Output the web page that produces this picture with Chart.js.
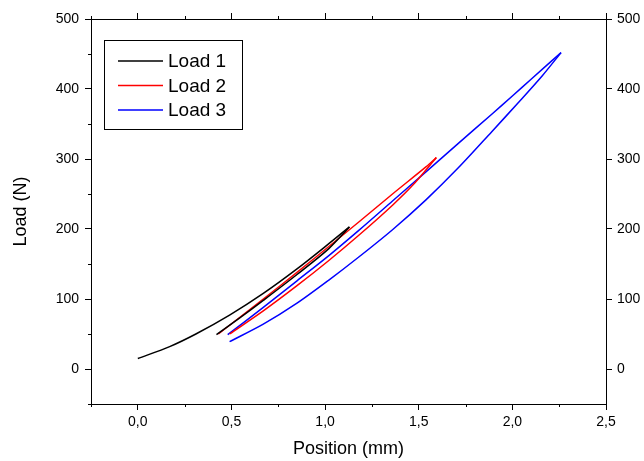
<!DOCTYPE html>
<html>
<head>
<meta charset="utf-8">
<script src="https://cdn.jsdelivr.net/npm/chart.js@4.4.1/dist/chart.umd.min.js"></script>
<style>
  html, body { margin: 0; padding: 0; background: #fff; }
  #wrap { width: 644px; height: 461px; }
</style>
</head>
<body>
<div id="wrap"><canvas id="chart" width="644" height="461"></canvas></div>
<script>
const seriesNames = ['Load 1', 'Load 2', 'Load 3'];
const seriesColors = ['#000000', '#ff0000', '#0000ff'];

// position (mm) / load (N); each loop is split in its two branches, both end at the peak
const load1UpPos = [0.00, 0.17, 0.31, 0.49, 0.67, 0.85, 1.02, 1.13];
const load1UpLoad = [15, 32, 50, 77, 108, 143, 179, 203];
const load1DownPos = [1.13, 1.02, 0.85, 0.67, 0.55, 0.42];
const load1DownLoad = [203, 172, 135, 98, 74, 49];

const load2UpPos = [0.43, 0.67, 0.85, 1.02, 1.18, 1.36, 1.54, 1.594];
const load2UpLoad = [50, 100, 138, 175, 210, 250, 289, 302];
const load2DownPos = [1.594, 1.48, 1.36, 1.18, 1.02, 0.85, 0.67, 0.49];
const load2DownLoad = [302, 266, 234, 191, 155, 119, 83, 50];

const load3UpPos = [0.49, 0.67, 0.85, 1.02, 1.18, 1.36, 1.54, 1.71, 1.89, 2.03, 2.16, 2.26];
const load3UpLoad = [39, 64, 94, 127, 160, 199, 242, 287, 339, 380, 419, 452];
const load3DownPos = [2.26, 2.10, 2.00, 1.89, 1.71, 1.54, 1.36, 1.18, 1.02, 0.85, 0.67, 0.48];
const load3DownLoad = [452, 414, 390, 364, 322, 282, 240, 198, 162, 126, 88, 49];

const xMajorTicks = [0, 0.5, 1, 1.5, 2, 2.5];
const xMinorTicks = [-0.25, 0.25, 0.75, 1.25, 1.75, 2.25];
const yMajorTicks = [0, 100, 200, 300, 400, 500];
const yMinorTicks = [-50, 50, 150, 250, 350, 450];

const FONT = "'Liberation Sans', Arial, sans-serif";
Chart.defaults.font.family = FONT;
Chart.defaults.color = '#000';

const toPoints = (xs, ys) => xs.map((x, i) => ({ x: x, y: ys[i] }));
const branches = [
  [load1UpPos, load1UpLoad, load1DownPos, load1DownLoad],
  [load2UpPos, load2UpLoad, load2DownPos, load2DownLoad],
  [load3UpPos, load3UpLoad, load3DownPos, load3DownLoad]
];

const datasets = [];
seriesNames.forEach((name, i) => {
  const b = branches[i];
  [[b[0], b[1]], [b[2], b[3]]].forEach(pair => {
    datasets.push({
      label: name,
      data: toPoints(pair[0], pair[1]),
      showLine: true,
      borderColor: seriesColors[i],
      backgroundColor: seriesColors[i],
      borderWidth: 1.5,
      pointRadius: 0,
      tension: 0.3
    });
  });
});

const grid = { drawOnChartArea: false, tickLength: 6, color: '#000', lineWidth: 1 };
const border = { color: '#000', width: 1 };

// short ticks between the labelled ones
const minorTicks = {
  id: 'minorTicks',
  afterDraw(chart) {
    const { ctx, chartArea, scales } = chart;
    ctx.save();
    ctx.strokeStyle = '#000';
    ctx.lineWidth = 1;
    ctx.beginPath();
    xMinorTicks.forEach(v => {
      const px = Math.round(scales.x.getPixelForValue(v)) + 0.5;
      ctx.moveTo(px, chartArea.bottom);
      ctx.lineTo(px, chartArea.bottom + 3);
      ctx.moveTo(px, chartArea.top);
      ctx.lineTo(px, chartArea.top - 3);
    });
    yMinorTicks.forEach(v => {
      const py = Math.round(scales.y.getPixelForValue(v)) + 0.5;
      ctx.moveTo(chartArea.left, py);
      ctx.lineTo(chartArea.left - 3, py);
    });
    ctx.stroke();
    ctx.restore();
  }
};

// boxed legend inside the plot, top left
const legendBox = {
  id: 'legendBox',
  afterDraw(chart) {
    const ctx = chart.ctx;
    ctx.save();
    ctx.strokeStyle = '#000';
    ctx.lineWidth = 1;
    ctx.strokeRect(104.5, 40.5, 138, 89);
    ctx.font = '19px ' + FONT;
    ctx.textBaseline = 'middle';
    ctx.fillStyle = '#000';
    seriesNames.forEach((name, i) => {
      const y = 61 + i * 24.5;
      ctx.strokeStyle = seriesColors[i];
      ctx.lineWidth = 1.5;
      ctx.beginPath();
      ctx.moveTo(118, y);
      ctx.lineTo(163, y);
      ctx.stroke();
      ctx.fillText(name, 168, y + 1);
    });
    ctx.restore();
  }
};

new Chart(document.getElementById('chart'), {
  type: 'scatter',
  data: { datasets: datasets },
  options: {
    responsive: false,
    animation: false,
    devicePixelRatio: 1,
    layout: { padding: 0 },
    plugins: { legend: { display: false }, tooltip: { enabled: false } },
    scales: {
      x: {
        type: 'linear', position: 'bottom', min: -0.25, max: 2.5,
        afterBuildTicks: s => { s.ticks = xMajorTicks.map(v => ({ value: v })); },
        afterFit: s => { s.height = 57; },
        ticks: { callback: v => v.toFixed(1).replace('.', ','), font: { size: 14 }, padding: 4, maxRotation: 0, autoSkip: false },
        grid: grid, border: border,
        title: { display: true, text: 'Position (mm)', font: { size: 18 }, padding: { top: 0, bottom: 1 } }
      },
      x2: {
        type: 'linear', position: 'top', min: -0.25, max: 2.5,
        afterBuildTicks: s => { s.ticks = xMajorTicks.map(v => ({ value: v })); },
        afterFit: s => { s.height = 19; },
        ticks: { display: false },
        grid: grid, border: border
      },
      y: {
        type: 'linear', position: 'left', min: -50, max: 500,
        afterBuildTicks: s => { s.ticks = yMajorTicks.map(v => ({ value: v })); },
        afterFit: s => { s.width = 91; },
        ticks: { callback: v => String(v), font: { size: 14 }, padding: 6, autoSkip: false },
        grid: grid, border: border,
        title: { display: true, text: 'Load (N)', font: { size: 18 }, padding: { top: 10, bottom: 0 } }
      },
      y2: {
        type: 'linear', position: 'right', min: -50, max: 500,
        afterBuildTicks: s => { s.ticks = yMajorTicks.map(v => ({ value: v })); },
        afterFit: s => { s.width = 38; },
        ticks: { callback: v => String(v), font: { size: 14 }, padding: 5, autoSkip: false },
        grid: grid, border: border
      }
    }
  },
  plugins: [minorTicks, legendBox]
});
</script>
</body>
</html>
